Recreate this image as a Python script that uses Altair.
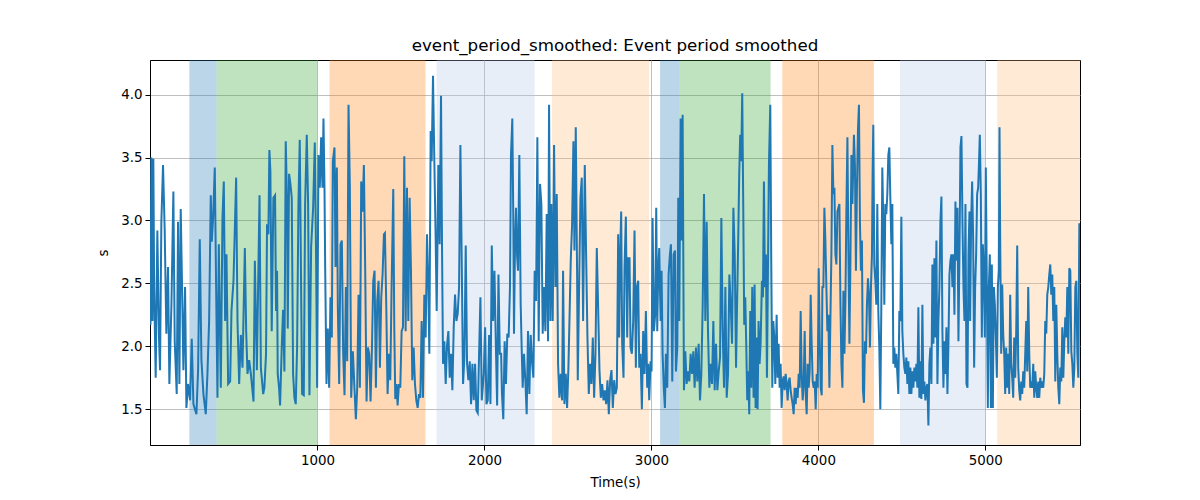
import altair as alt
import pandas as pd

# --- data (time in s, event period smoothed in s) ---
seg1 = [(0,2.17),(5,3.50),(12,2.20),(17,3.49),(22,2.47),(31,1.75),(41,2.92),(51,2.06),(57,1.81),(65,2.99),
        (75,3.44),(85,2.92),(95,2.10),(105,2.63),(113,1.70),(125,2.31),(137,3.23),(145,2.04),(157,1.62),(165,2.99),
        (173,1.70),(181,3.09),(189,2.47),(197,1.81),(207,2.47),(215,1.51),(225,1.70),(237,1.57),(247,2.06),(257,1.54),
        (275,1.46),(285,1.81),(295,2.85),(305,1.89),(317,1.62),(331,1.46),(341,1.78),(351,2.20),(361,3.20),(367,2.83),
        (375,3.02),(385,3.42),(393,2.47),(401,1.59),(409,2.81),(421,1.67),(431,3.02),(439,3.31),(447,2.20),(455,2.73),
        (465,1.70),(477,1.72),(485,2.28),(497,2.52),(513,3.34),(521,2.20),(531,1.70),(541,2.09),(551,1.83),(565,2.78),
        (573,2.12),(581,1.78),(591,1.89),(601,1.78),(617,1.56),(625,2.68),(637,1.81),(653,3.20),(661,1.83),(675,1.62)]
seg2 = [(682,1.67),(692,1.94),(698,2.97),(706,2.89),(712,3.56),(718,3.39),(726,2.12),(736,3.18),(746,3.20),(752,2.28),
        (758,2.60),(762,1.78),(770,1.67),(776,1.53),(786,1.99),(794,2.29),(802,1.80),(810,3.63),(818,3.13),(822,2.14),
        (830,3.37),(838,3.29),(846,3.18),(854,1.78),(862,1.59),(870,1.54),(878,1.99),(886,3.13),(894,3.64),(902,2.47),
        (908,1.62),(918,1.61),(926,3.13),(936,3.68),(944,3.13),(952,1.61),(962,2.79),(974,3.10),(984,3.62),(992,2.68),
        (998,1.67),(1006,3.52),(1014,3.26),(1022,3.66),(1030,3.26),(1036,3.81),(1042,3.26),(1046,2.65),(1054,1.70),(1062,2.14),
        (1070,1.67),(1078,2.39),(1086,2.07),(1092,3.47),(1102,3.58),(1108,2.63),(1116,3.42),(1122,2.31),(1130,1.70),(1138,2.81),
        (1146,2.84),(1154,1.94),(1162,1.61),(1170,2.47),(1178,1.88),(1186,3.92),(1194,3.26),(1202,1.59),(1212,1.96),(1222,1.65),
        (1230,1.42),(1238,1.67),(1246,2.41),(1254,1.67),(1262,3.31),(1270,3.07),(1278,3.44),(1286,2.60),(1294,1.56),(1302,1.99),
        (1310,1.94),(1318,1.56),(1326,1.96),(1334,2.52),(1342,2.60),(1350,1.67),(1358,2.36),(1366,2.52),(1374,1.83),(1382,2.39),
        (1390,2.57),(1398,2.89)]
seg3 = [(1404,2.90),(1412,2.33),(1420,1.62),(1428,1.94),(1436,1.73),(1444,2.47),(1454,3.25),(1460,2.15),(1466,1.58),(1474,1.70),
        (1480,1.53),(1488,1.70),(1496,1.67),(1504,2.12),(1512,2.15),(1520,3.51),(1528,2.12),(1536,3.26),(1544,2.20),(1552,3.18),
        (1560,2.60),(1568,1.73),(1576,1.99),(1584,1.70),(1592,1.57),(1600,1.51),(1608,1.62),(1616,1.59),(1624,2.20),(1632,1.59),
        (1640,2.41),(1648,2.07),(1656,2.89),(1664,2.47),(1670,1.94),(1678,3.71),(1684,3.47),(1692,4.15),(1700,3.47),(1708,2.84),
        (1714,2.28),(1724,3.44),(1732,2.81),(1740,3.99),(1746,2.79),(1752,1.86),(1760,2.04),(1768,1.70),(1776,2.01),(1784,2.12),
        (1792,1.75),(1800,1.94),(1808,1.65),(1816,2.15),(1824,2.41),(1832,2.20),(1840,2.26),(1848,2.47),(1856,3.60),(1864,2.68),
        (1872,1.70),(1880,1.91),(1888,2.80),(1896,1.86),(1904,1.73),(1912,1.88),(1920,1.54),(1928,1.86),(1936,1.57),(1944,1.86),
        (1952,1.49),(1960,1.47),(1968,1.94),(1976,2.39),(1984,1.57),(1996,1.78),(2004,2.15),(2012,1.54),(2020,1.57),(2028,2.09),
        (2036,1.54),(2044,2.80),(2052,2.20),(2060,2.60),(2068,2.04),(2076,1.53),(2084,2.57),(2092,1.94),(2100,1.94)]
seg4 = [(2105,1.62),(2113,1.42),(2121,2.04),(2129,1.70),(2137,2.10),(2145,2.07),(2153,2.47),(2159,3.52),(2167,3.81),(2173,2.99),
        (2177,2.10),(2183,2.79),(2189,3.10),(2195,2.73),(2201,2.60),(2209,3.52),(2217,2.34),(2223,1.99),(2229,1.67),(2237,1.94),
        (2245,1.73),(2253,1.46),(2261,2.12),(2269,1.62),(2277,2.09),(2285,1.88),(2293,1.75),(2301,2.60),(2309,2.36),(2317,3.66),
        (2325,2.04),(2333,3.29),(2341,3.13),(2349,2.10),(2357,2.47),(2365,2.12),(2373,3.05),(2381,2.04),(2387,3.92),(2395,2.20),
        (2401,3.13),(2409,2.20),(2417,3.60),(2425,2.47),(2433,3.21),(2441,1.86),(2449,1.59),(2457,1.78),(2465,1.57),(2471,2.60),
        (2479,1.54),(2487,1.78),(2495,1.51),(2503,1.83),(2511,2.31),(2517,2.68),(2525,2.97),(2533,3.63),(2539,2.76),(2547,3.74),
        (2555,2.57),(2559,1.73),(2567,2.47),(2575,3.18),(2583,3.34),(2591,2.20),(2601,3.44),(2609,2.73),(2617,2.07),(2625,1.62),
        (2633,1.86),(2641,1.70),(2649,2.07),(2657,1.59),(2665,1.94),(2673,2.78),(2681,2.31),(2689,1.81),(2697,1.59),(2705,1.70),
        (2713,1.57),(2721,1.65),(2729,1.54),(2737,1.73),(2745,1.46),(2753,1.73),(2761,1.81),(2769,1.51),(2777,1.73),(2785,1.62),
        (2793,1.67),(2801,2.89)]
seg5 = [(2807,2.07),(2813,2.73),(2819,3.07),(2825,2.02),(2833,1.75),(2839,2.62),(2847,3.03),(2855,2.07),(2861,2.70),(2869,2.70),
        (2875,1.99),(2883,1.94),(2891,2.20),(2899,2.92),(2907,1.83),(2913,2.47),(2921,2.52),(2927,1.83),(2935,1.94),(2943,1.50),
        (2951,2.12),(2959,1.78),(2967,2.28),(2975,1.67),(2981,1.86),(2987,1.57),(2995,1.88),(3001,1.80),(3007,3.02),(3015,2.12),
        (3023,2.26),(3029,3.10),(3035,2.12),(3041,2.60),(3047,2.78),(3055,2.20),(3061,2.60),(3067,1.94),(3075,1.65),(3081,1.51),
        (3087,1.94),(3095,1.67),(3103,2.57),(3111,2.73),(3117,2.81),(3125,1.72),(3133,2.73),(3141,2.76),(3147,1.80),(3155,1.99),
        (3161,3.18),(3167,2.20),(3175,3.81),(3181,2.84),(3187,3.84),(3195,1.65),(3203,1.96),(3211,1.70),(3219,1.80),(3227,1.72),
        (3235,1.94),(3243,1.78),(3251,1.96),(3259,1.67),(3267,1.99),(3275,1.72),(3283,2.02),(3291,1.57),(3299,1.78),(3307,2.31),
        (3315,3.21),(3323,2.20),(3331,2.99),(3339,2.12),(3347,1.67),(3355,1.86),(3363,1.70),(3371,2.20),(3379,1.65),(3387,2.02),
        (3395,1.65),(3403,1.80),(3411,1.91),(3419,3.02),(3427,2.12),(3435,1.67),(3443,2.47),(3451,1.59),(3459,1.78),(3467,2.57),
        (3475,2.33),(3483,2.02),(3491,3.10),(3499,2.73),(3507,1.83)]
seg6 = [(3512,2.25),(3520,2.84),(3526,3.37),(3532,3.68),(3538,3.47),(3544,4.01),(3550,3.13),(3556,2.17),(3562,2.39),(3568,2.02),
        (3574,1.57),(3580,1.80),(3586,1.46),(3592,2.28),(3598,1.67),(3604,2.47),(3612,1.59),(3618,2.49),(3624,1.51),(3630,2.07),
        (3636,1.50),(3642,2.20),(3648,1.86),(3654,2.02),(3662,2.52),(3668,2.39),(3674,3.31),(3680,2.47),(3686,2.73),(3692,1.75),
        (3698,2.60),(3704,3.44),(3712,3.92),(3718,2.65),(3724,1.67),(3730,2.20),(3736,2.07),(3742,1.70),(3750,2.25),(3756,1.75),
        (3762,2.02),(3768,1.67),(3774,1.86),(3780,1.51),(3786,1.72),(3792,1.76),(3798,1.65),(3804,1.78),(3810,1.70),(3816,1.57),
        (3822,1.72),(3828,1.75),(3834,1.65),(3840,1.59),(3846,1.54),(3852,1.46),(3858,1.67),(3864,1.54),(3870,1.67),(3876,1.59),
        (3882,1.78),(3888,1.67),(3894,2.28),(3900,1.78),(3906,1.57),(3912,1.70),(3918,2.12),(3924,1.62),(3930,1.46),(3936,1.86),
        (3942,1.67),(3948,1.80),(3954,2.41),(3960,2.02),(3966,1.72),(3972,1.67),(3978,1.72),(3984,1.50),(3990,1.78),(3996,1.67),
        (4002,2.62),(4008,2.07),(4014,1.67),(4020,1.61),(4024,2.47),(4030,2.47),(4036,3.10),(4042,2.84),(4048,2.47),(4054,2.12),
        (4060,2.25),(4066,1.67),(4072,2.20),(4078,2.73),(4084,3.60),(4090,3.21),(4096,3.26),(4102,2.73),(4108,2.65),(4114,3.07),
        (4120,3.10),(4126,3.13),(4132,2.36),(4138,1.86),(4144,1.67),(4150,2.44),(4156,1.94),(4162,2.36),(4168,3.10),(4174,3.66),
        (4180,2.73),(4186,2.02),(4192,2.68),(4198,3.52),(4204,3.13)]
seg7 = [(4213,3.68),(4219,3.44),(4225,2.60),(4231,3.26),(4237,3.71),(4243,3.92),(4249,2.99),(4255,2.60),(4261,2.84),(4267,1.65),
        (4273,1.55),(4279,2.04),(4285,1.94),(4291,2.33),(4297,2.54),(4303,2.41),(4309,1.99),(4315,2.47),(4321,2.73),(4325,3.39),
        (4329,3.76),(4335,2.65),(4341,2.52),(4347,2.33),(4353,3.13),(4359,2.28),(4365,1.99),(4371,1.50),(4377,2.31),(4383,3.42),
        (4389,2.99),(4395,2.33),(4401,3.13),(4407,3.05),(4413,3.21),(4419,3.52),(4425,3.58),(4431,3.18),(4437,2.81),(4443,3.13),
        (4449,1.86),(4455,1.99),(4461,1.83),(4467,1.94),(4473,1.78),(4479,1.62),(4485,2.28),(4491,2.20),(4497,3.03),(4503,2.12),
        (4509,1.94),(4515,1.83),(4521,1.78),(4527,1.91),(4533,1.70),(4539,1.88),(4545,1.62),(4551,1.83),(4557,1.62),(4563,1.80),
        (4569,1.67),(4575,1.83),(4581,1.72),(4587,1.86),(4593,1.67),(4599,2.31),(4605,1.59),(4611,1.88),(4617,1.58),(4623,2.33),
        (4629,1.62),(4635,1.72),(4641,1.57),(4647,1.67),(4653,1.70),(4659,1.37),(4665,1.86),(4671,1.99),(4677,1.70),(4683,2.65),
        (4689,2.02),(4695,2.70),(4701,2.07),(4707,2.84),(4713,1.70),(4719,2.20),(4725,2.47),(4731,2.99),(4737,3.19),(4743,2.12),
        (4749,1.67),(4755,2.04),(4761,1.78),(4767,2.15),(4773,1.62),(4779,2.02),(4785,2.57),(4791,2.68),(4797,2.73),(4803,2.47),
        (4809,2.73),(4815,2.25),(4821,3.15),(4827,2.68),(4833,3.10),(4839,2.04),(4845,2.73),(4851,3.58),(4857,3.67),(4863,2.99),
        (4869,2.47),(4875,2.20),(4881,3.13),(4887,1.70),(4893,1.67),(4899,2.73),(4905,3.07)]
seg8 = [(4909,2.20),(4915,2.99),(4921,3.31),(4927,2.86),(4933,1.83),(4939,2.47),(4945,2.73),(4951,3.21),(4957,3.26),(4963,3.50),
        (4967,3.68),(4973,3.21),(4979,2.07),(4985,2.81),(4991,2.60),(4997,2.07),(5003,3.42),(5009,2.47),(5015,1.51),(5021,2.47),
        (5027,2.73),(5033,1.51),(5039,2.65),(5045,1.51),(5051,2.47),(5057,2.33),(5063,2.07),(5069,1.75),(5075,2.47),(5081,2.60),
        (5085,3.74),(5089,2.84),(5095,1.94),(5101,2.49),(5107,2.10),(5113,1.94),(5119,1.62),(5125,1.99),(5131,1.67),(5137,1.94),
        (5143,1.62),(5149,2.41),(5155,1.86),(5161,1.75),(5167,1.59),(5173,2.07),(5179,1.75),(5185,2.12),(5191,2.80),(5197,1.83),
        (5203,1.65),(5209,1.57),(5215,1.72),(5221,1.62),(5227,1.80),(5233,1.67),(5239,1.94),(5245,2.20),(5251,1.80),(5257,2.47),
        (5263,1.94),(5269,1.67),(5275,1.72),(5281,1.67),(5287,1.86),(5293,1.59),(5299,1.80),(5305,1.67),(5311,1.59),(5317,1.72),
        (5323,1.59),(5329,1.75),(5335,1.67),(5341,1.72),(5347,1.67),(5353,1.78),(5359,2.20),(5365,2.10),(5371,2.41),(5377,2.47),
        (5383,2.57),(5389,2.65),(5395,2.41),(5401,2.57),(5407,2.20),(5413,2.47),(5419,1.72),(5425,2.33),(5431,1.94),(5437,1.67),
        (5443,1.54),(5449,1.83),(5455,1.72),(5461,2.15),(5467,1.75),(5473,2.04),(5479,2.23),(5485,2.07),(5491,2.47),(5497,1.94),
        (5503,2.62),(5509,2.60),(5515,1.96),(5521,1.86),(5527,1.67),(5533,1.83),(5539,2.47),(5545,2.52),(5551,1.94),(5557,1.75),
        (5563,2.97),(5567,2.97)]

band_start = [233, 396, 1072, 1713, 2405, 3052, 3166, 3784, 4489, 5071]
band_end = [396, 998, 1647, 2301, 2986, 3166, 3714, 4333, 5001, 5567]
band_kind = ["a", "b", "c", "d", "e", "a", "b", "c", "d", "e"]
band_colors = ["#1f77b4", "#2ca02c", "#ff7f0e", "#aec7e8", "#ffbb78"]

x_ticks = [1000, 2000, 3000, 4000, 5000]
y_ticks = [1.5, 2.0, 2.5, 3.0, 3.5, 4.0]

pts = seg1 + seg2 + seg3 + seg4 + seg5 + seg6 + seg7 + seg8
line_df = pd.DataFrame(pts, columns=["t", "v"])
band_df = pd.DataFrame({"start": band_start, "end": band_end, "kind": band_kind})

FONT = "DejaVu Sans"
xscale = alt.Scale(domain=[-3, 5567], nice=False, zero=False)
yscale = alt.Scale(domain=[1.215, 4.275], nice=False, zero=False)

xaxis = alt.Axis(values=x_ticks, format="d", title="Time(s)", grid=True, titlePadding=9)
yaxis = alt.Axis(values=y_ticks, format=".1f", title="s", grid=True, titlePadding=10)

bands = alt.Chart(band_df).mark_rect(opacity=0.3).encode(
    x=alt.X("start:Q", scale=xscale, axis=xaxis),
    x2="end:Q",
    color=alt.Color("kind:N", scale=alt.Scale(domain=["a", "b", "c", "d", "e"], range=band_colors), legend=None),
)

line = alt.Chart(line_df).mark_line(color="#1f77b4", strokeWidth=2, clip=True).encode(
    x=alt.X("t:Q", scale=xscale, axis=xaxis),
    y=alt.Y("v:Q", scale=yscale, axis=yaxis),
)

chart = alt.layer(bands, line).properties(
    width=930,
    height=385,
    autosize="none",
    padding={"left": 142, "top": 52, "right": 112, "bottom": 47},
    title=alt.TitleParams(
        text="event_period_smoothed: Event period smoothed",
        fontSize=16.7, fontWeight="normal", font=FONT, color="black", offset=5,
    ),
).configure_view(
    stroke="black", strokeWidth=1
).configure_axis(
    labelFont=FONT, titleFont=FONT, labelFontSize=13.4, titleFontSize=13.4,
    titleFontWeight="normal", labelColor="black", titleColor="black",
    domainColor="black", tickColor="black", tickSize=5, labelPadding=3,
    gridColor="#b0b0b0", gridWidth=0.8,
)

chart.save("out.html", embed_options={"renderer": "svg", "actions": False})
